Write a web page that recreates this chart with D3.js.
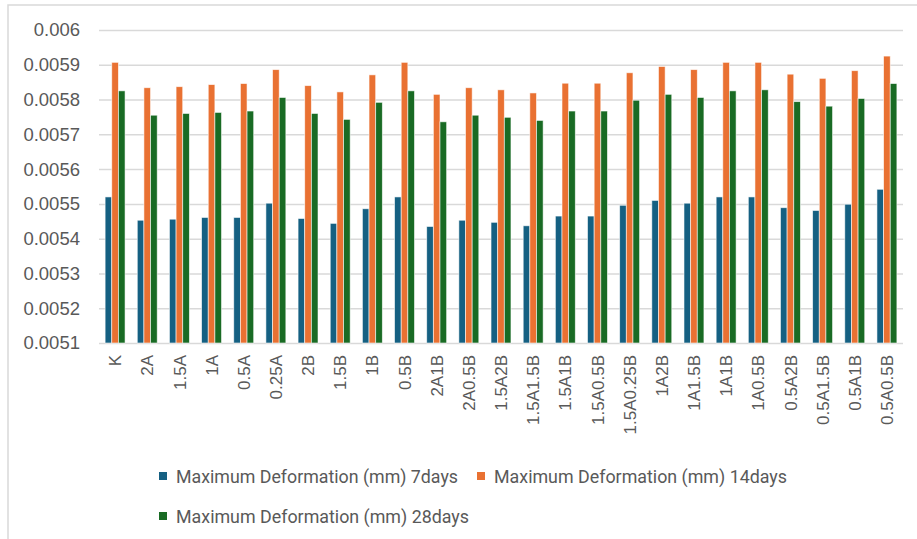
<!DOCTYPE html>
<html>
<head>
<meta charset="utf-8">
<script src="https://cdn.jsdelivr.net/npm/d3@7/dist/d3.min.js"></script>
<style>
  html, body { margin: 0; padding: 0; background: #ffffff; }
  svg { display: block; }
</style>
</head>
<body>
<div id="chart"></div>
<script>
// Mix designations along the x axis
const categories = ["K", "2A", "1.5A", "1A", "0.5A", "0.25A", "2B", "1.5B", "1B", "0.5B",
  "2A1B", "2A0.5B", "1.5A2B", "1.5A1.5B", "1.5A1B", "1.5A0.5B", "1.5A0.25B",
  "1A2B", "1A1.5B", "1A1B", "1A0.5B", "0.5A2B", "0.5A1.5B", "0.5A1B", "0.5A0.5B"];

// Maximum deformation (mm) at each curing age
const days7 = [0.005520, 0.005453, 0.005456, 0.005461, 0.005461, 0.005502, 0.005458, 0.005444, 0.005486, 0.005520,
  0.005435, 0.005453, 0.005447, 0.005437, 0.005465, 0.005465, 0.005496,
  0.005510, 0.005502, 0.005520, 0.005520, 0.005489, 0.005481, 0.005499, 0.005542];
const days14 = [0.005907, 0.005834, 0.005837, 0.005843, 0.005846, 0.005886, 0.005840, 0.005822, 0.005871, 0.005907,
  0.005815, 0.005834, 0.005828, 0.005819, 0.005847, 0.005847, 0.005877,
  0.005895, 0.005886, 0.005907, 0.005907, 0.005873, 0.005861, 0.005883, 0.005925];
const days28 = [0.005825, 0.005755, 0.005760, 0.005763, 0.005767, 0.005806, 0.005760, 0.005743, 0.005792, 0.005825,
  0.005736, 0.005755, 0.005749, 0.005740, 0.005767, 0.005767, 0.005798,
  0.005815, 0.005806, 0.005825, 0.005828, 0.005794, 0.005781, 0.005803, 0.005846];

const seriesNames = ["Maximum Deformation (mm) 7days", "Maximum Deformation (mm) 14days", "Maximum Deformation (mm) 28days"];
const seriesColors = ["#156082", "#E97132", "#196B24"];

// Y axis tick values
const yTicks = [0.0051, 0.0052, 0.0053, 0.0054, 0.0055, 0.0056, 0.0057, 0.0058, 0.0059, 0.006];

const W = 917, H = 539;
const plot = { left: 99, right: 903, top: 30, bottom: 343 };

const svg = d3.select("#chart").append("svg")
  .attr("width", W).attr("height", H);

// Chart area frame
svg.append("path")
  .attr("d", `M8,${H} L8,5 L${W},5`)
  .attr("fill", "none")
  .attr("stroke", "#d9d9d9")
  .attr("stroke-width", 1.5);

const y = d3.scaleLinear()
  .domain([yTicks[0], yTicks[yTicks.length - 1]])
  .range([plot.bottom, plot.top]);

const x = d3.scaleBand()
  .domain(categories)
  .range([plot.left, plot.right])
  .paddingInner(0.38)
  .paddingOuter(0.19);

const xs = d3.scaleBand()
  .domain(d3.range(seriesNames.length))
  .range([0, x.bandwidth()]);

// Gridlines and value labels
const yAxis = svg.append("g")
  .attr("transform", `translate(${plot.left},0)`)
  .call(d3.axisLeft(y)
    .tickValues(yTicks)
    .tickSize(-(plot.right - plot.left))
    .tickPadding(19)
    .tickFormat(d => String(+d.toFixed(4))));
yAxis.select(".domain").remove();
yAxis.selectAll(".tick line")
  .attr("stroke", "#d9d9d9")
  .attr("stroke-width", 1.5);
yAxis.selectAll(".tick text")
  .attr("fill", "#595959")
  .style("font-family", "'Liberation Sans', Arial, sans-serif")
  .style("font-size", "18.5px");

// Bars
const seriesData = [days7, days14, days28];
const groups = svg.append("g").selectAll("g")
  .data(seriesData)
  .join("g")
  .attr("fill", (d, i) => seriesColors[i]);

groups.each(function (vals, si) {
  d3.select(this).selectAll("rect")
    .data(vals)
    .join("rect")
    .attr("x", (v, ci) => x(categories[ci]) + xs(si))
    .attr("width", xs.bandwidth())
    .attr("y", v => y(v))
    .attr("height", v => plot.bottom - y(v))
    .attr("stroke", "#ffffff")
    .attr("stroke-opacity", 0.7)
    .attr("stroke-width", 0.8);
});

// Category labels, rotated
const xAxis = svg.append("g")
  .attr("transform", `translate(0,${plot.bottom})`)
  .call(d3.axisBottom(x).tickSize(0).tickPadding(0));
xAxis.select(".domain").remove();
xAxis.selectAll(".tick text")
  .attr("fill", "#595959")
  .style("font-family", "'Liberation Sans', Arial, sans-serif")
  .style("font-size", "17px")
  .attr("text-anchor", "end")
  .attr("transform", "rotate(-90)")
  .attr("x", -12)
  .attr("y", 0)
  .attr("dy", "0.36em");

// Legend
const legendItems = [
  { x: 159, y: 483, w: 282 },
  { x: 477, y: 483, w: 293 },
  { x: 159, y: 523, w: 293 }
];
const legend = svg.append("g");
legendItems.forEach((p, i) => {
  legend.append("rect")
    .attr("x", p.x).attr("y", p.y - 11)
    .attr("width", 8).attr("height", 8)
    .attr("fill", seriesColors[i]);
  legend.append("text")
    .attr("x", p.x + 17).attr("y", p.y)
    .attr("fill", "#595959")
    .style("font-family", "'Liberation Sans Narrow', 'Roboto', sans-serif")
    .style("font-size", "18px")
    .attr("textLength", p.w)
    .attr("lengthAdjust", "spacingAndGlyphs")
    .text(seriesNames[i]);
});
</script>
</body>
</html>
